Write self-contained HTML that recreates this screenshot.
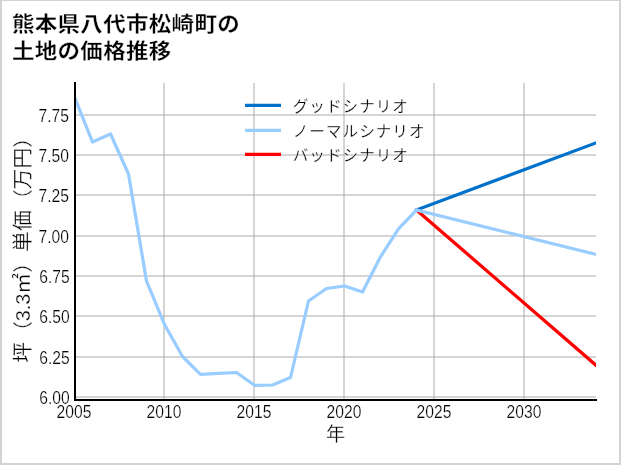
<!DOCTYPE html>
<html lang="ja">
<head>
<meta charset="utf-8">
<title>熊本県八代市松崎町の土地の価格推移</title>
<style>
html,body{margin:0;padding:0;background:#fff;}
body{width:621px;height:465px;overflow:hidden;}
svg{display:block;}
text{font-family:"Liberation Sans","Noto Sans CJK JP",sans-serif;fill:#000;}
.title{font-weight:700;font-size:22.5px;letter-spacing:0.32px;stroke:#fff;stroke-width:0.3px;}
.jp{font-weight:400;stroke:#fff;stroke-width:0.3px;}
.legend{font-weight:400;font-size:15.6px;letter-spacing:1.02px;stroke:#fff;stroke-width:0.25px;}
.num{font-weight:400;font-size:17.8px;stroke:#fff;stroke-width:0.25px;}
</style>
</head>
<body>
<svg width="621" height="465" viewBox="0 0 621 465">
<rect x="0" y="0" width="621" height="465" fill="#ffffff"/>
<!-- outer frame -->
<g fill="#d3d3d3" shape-rendering="crispEdges"><rect x="0" y="0" width="621" height="1"/><rect x="0" y="0" width="2" height="465"/><rect x="619" y="0" width="2" height="465"/><rect x="0" y="463" width="621" height="2"/></g>
<!-- grid -->
<g fill="#a7a7a7" fill-opacity="0.48" shape-rendering="crispEdges">
<rect x="163" y="83" width="2" height="316"/>
<rect x="253" y="83" width="2" height="316"/>
<rect x="343" y="83" width="2" height="316"/>
<rect x="433" y="83" width="2" height="316"/>
<rect x="523" y="83" width="2" height="316"/>
<rect x="76" y="114" width="520" height="2"/>
<rect x="76" y="154" width="520" height="2"/>
<rect x="76" y="194" width="520" height="2"/>
<rect x="76" y="235" width="520" height="2"/>
<rect x="76" y="275" width="520" height="2"/>
<rect x="76" y="315" width="520" height="2"/>
<rect x="76" y="356" width="520" height="2"/>
<rect x="76" y="396" width="520" height="2"/>
</g>
<!-- series -->
<defs><clipPath id="c"><rect x="74" y="82" width="522" height="318"/></clipPath></defs>
<g clip-path="url(#c)" fill="none" stroke-width="3.25" stroke-linejoin="round" stroke-linecap="square">
<path stroke="#ff0000" d="M416.5,210.0 L596.5,365.7"/>
<path stroke="#0071ca" d="M416.5,210.0 L596.5,142.7"/>
<path stroke="#99ccff" d="M416.5,210.0 L596.5,254.5"/>
<path stroke="#99ccff" d="M74.5,97.2 L92.5,142.0 L110.5,134.0 L128.5,174.0 L146.5,281.0 L164.5,324.5 L182.5,356.5 L200.5,374.3 L218.5,373.3 L236.5,372.5 L254.5,385.3 L272.5,385.0 L290.5,377.5 L308.5,301.0 L326.5,288.5 L344.5,286.0 L362.5,292.0 L380.5,256.8 L398.5,228.9 L416.5,210.0"/>
</g>
<!-- axes -->
<g fill="#000" shape-rendering="crispEdges"><rect x="74" y="82" width="2" height="319"/><rect x="74" y="399" width="523" height="2"/></g>
<!-- legend -->
<g fill="none" stroke-width="3.2"><path stroke="#0071ca" d="M245,105.4H281"/><path stroke="#99ccff" d="M245,130.4H281"/><path stroke="#ff0000" d="M245,154.4H281"/></g>
<g class="legend">
<text x="292.7" y="112">グッドシナリオ</text>
<text x="292.7" y="137">ノーマルシナリオ</text>
<text x="292.7" y="161">バッドシナリオ</text>
</g>
<!-- title -->
<g class="title" transform="translate(11.9,31) scale(1,0.93)">
<text x="0" y="0">熊本県八代市松崎町の</text>
<text x="0" y="29">土地の価格推移</text>
</g>
<!-- y tick labels -->
<g class="num" text-anchor="end">
<text transform="translate(69,121.5) scale(0.88,1)">7.75</text>
<text transform="translate(69,161.5) scale(0.88,1)">7.50</text>
<text transform="translate(69,201.5) scale(0.88,1)">7.25</text>
<text transform="translate(69,242.5) scale(0.88,1)">7.00</text>
<text transform="translate(69.7,282.5) scale(0.88,1)">6.75</text>
<text transform="translate(69.7,322.5) scale(0.88,1)">6.50</text>
<text transform="translate(69.7,363.5) scale(0.88,1)">6.25</text>
<text transform="translate(69.7,403.5) scale(0.88,1)">6.00</text>
</g>
<!-- x tick labels -->
<g class="num" text-anchor="middle">
<text transform="translate(74,418) scale(0.88,1)">2005</text>
<text transform="translate(164,418) scale(0.88,1)">2010</text>
<text transform="translate(254,418) scale(0.88,1)">2015</text>
<text transform="translate(344,418) scale(0.88,1)">2020</text>
<text transform="translate(434,418) scale(0.88,1)">2025</text>
<text transform="translate(524,418) scale(0.88,1)">2030</text>
</g>
<!-- axis labels -->
<text class="jp" font-size="19.2" text-anchor="middle" x="335.7" y="441">年</text>
<g transform="translate(30,244.85) rotate(-90) scale(1,0.96)" font-size="20.86">
<text class="jp" text-anchor="end" x="-76.32" y="0">坪（</text>
<text class="num" style="font-size:21.84px;stroke-width:0.3px" text-anchor="middle" transform="translate(-62.56,0) scale(0.912,1)">3.3</text>
<text class="jp" x="-48.8" y="0">㎡）単価（万円）</text>
</g>
</svg>
</body>
</html>
